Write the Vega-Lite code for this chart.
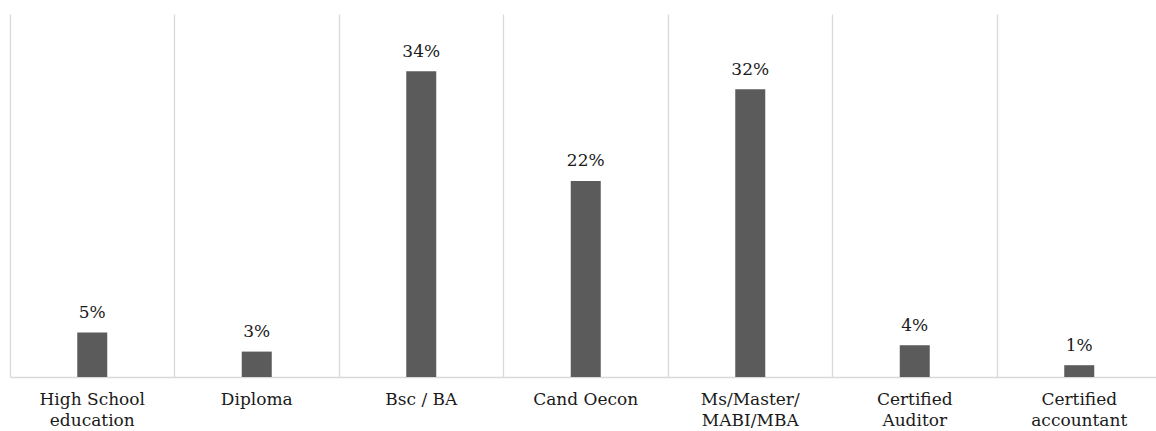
{
  "$schema": "https://vega.github.io/schema/vega-lite/v6.json",
  "autosize": {"type": "none"},
  "width": 1146,
  "height": 363,
  "padding": {"left": 10, "top": 14, "right": 0, "bottom": 54},
  "background": "white",
  "config": {
    "view": {"stroke": null},
    "font": "DejaVu Serif"
  },
  "data": {
    "values": [
      {"level": "High School\neducation", "share": 0.049},
      {"level": "Diploma", "share": 0.028},
      {"level": "Bsc / BA", "share": 0.337},
      {"level": "Cand Oecon", "share": 0.216},
      {"level": "Ms/Master/\nMABI/MBA", "share": 0.317},
      {"level": "Certified\nAuditor", "share": 0.035},
      {"level": "Certified\naccountant", "share": 0.013}
    ]
  },
  "encoding": {
    "x": {
      "field": "level",
      "type": "nominal",
      "sort": null,
      "scale": {"range": [0, 1151.5], "paddingInner": 0, "paddingOuter": 0},
      "axis": {
        "title": null,
        "labelAngle": 0,
        "labelExpr": "split(datum.value, '\\n')",
        "labelFont": "DejaVu Serif",
        "labelFontSize": 17,
        "labelColor": "#1a1a1a",
        "labelLineHeight": 21,
        "labelPadding": 14,
        "labelBaseline": "top",
        "ticks": false,
        "domainColor": "#d9d9d9",
        "domainWidth": 1.5,
        "grid": true,
        "bandPosition": 0,
        "gridColor": "#d9d9d9",
        "gridWidth": 1.3
      }
    },
    "y": {
      "field": "share",
      "type": "quantitative",
      "scale": {"domain": [0, 0.4], "nice": false},
      "axis": null
    }
  },
  "layer": [
    {
      "mark": {"type": "bar", "width": 30, "color": "#5b5b5b"}
    },
    {
      "mark": {
        "type": "text",
        "baseline": "alphabetic",
        "align": "center",
        "dy": -14.5,
        "font": "DejaVu Serif",
        "fontSize": 17,
        "color": "#1a1a1a"
      },
      "encoding": {
        "text": {"field": "share", "type": "quantitative", "format": ".0%"}
      }
    }
  ]
}
